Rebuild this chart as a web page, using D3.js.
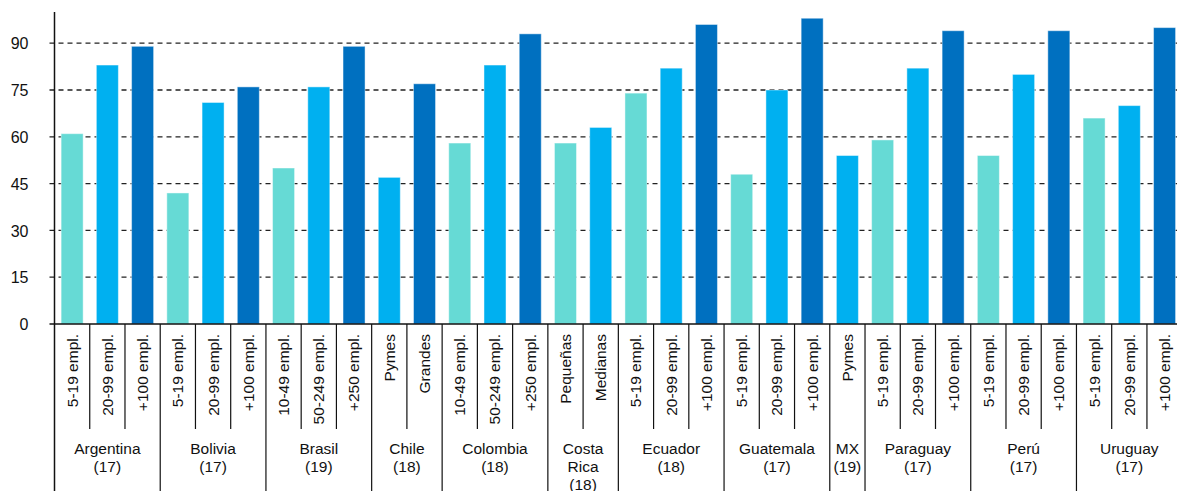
<!DOCTYPE html>
<html>
<head>
<meta charset="utf-8">
<script src="https://cdn.jsdelivr.net/npm/d3@7"></script>
<style>
  body { margin: 0; background: #fff; overflow: hidden; }
  text { font-family: Arial, "Liberation Sans", sans-serif; fill: #111; }
</style>
</head>
<body>
<div id="container"></div>
<script>
// data
const countries = ["Argentina", "Bolivia", "Brasil", "Chile", "Colombia", "Costa Rica",
                   "Ecuador", "Guatemala", "MX", "Paraguay", "Perú", "Uruguay"];
const years = ["(17)", "(17)", "(19)", "(18)", "(18)", "(18)", "(18)", "(17)", "(19)", "(17)", "(17)", "(17)"];
const sizeLabels = [
  ["5-19 empl.", "20-99 empl.", "+100 empl."],
  ["5-19 empl.", "20-99 empl.", "+100 empl."],
  ["10-49 empl.", "50-249 empl.", "+250 empl."],
  ["Pymes", "Grandes"],
  ["10-49 empl.", "50-249 empl.", "+250 empl."],
  ["Pequeñas", "Medianas"],
  ["5-19 empl.", "20-99 empl.", "+100 empl."],
  ["5-19 empl.", "20-99 empl.", "+100 empl."],
  ["Pymes"],
  ["5-19 empl.", "20-99 empl.", "+100 empl."],
  ["5-19 empl.", "20-99 empl.", "+100 empl."],
  ["5-19 empl.", "20-99 empl.", "+100 empl."]
];
const values = [
  [61, 83, 89], [42, 71, 76], [50, 76, 89], [47, 77], [58, 83, 93], [58, 63],
  [74, 82, 96], [48, 75, 98], [54], [59, 82, 94], [54, 80, 94], [66, 70, 95]
];
// which shade each bar uses (0 small, 1 medium, 2 large)
const tiers = [
  [0, 1, 2], [0, 1, 2], [0, 1, 2], [1, 2], [0, 1, 2], [0, 1],
  [0, 1, 2], [0, 1, 2], [1], [0, 1, 2], [0, 1, 2], [0, 1, 2]
];
const yTicks = [0, 15, 30, 45, 60, 75, 90];

const width = 1177, height = 491;
const margin = { left: 54.5, top: 12 };
const axisY = 324;

// flatten into one row per bar
const bars = [];
countries.forEach((c, gi) => {
  values[gi].forEach((v, k) => {
    bars.push({ id: bars.length, group: gi, label: sizeLabels[gi][k], value: v, tier: tiers[gi][k] });
  });
});

const step = 35.24;
const xScale = d3.scaleBand()
  .domain(bars.map(d => d.id))
  .range([margin.left, margin.left + step * bars.length])
  .paddingInner(0.375)
  .paddingOuter(0.1875);

const yScale = d3.scaleLinear()
  .domain([0, 100])
  .range([axisY, margin.top]);

const colorScale = d3.scaleOrdinal()
  .domain([0, 1, 2])
  .range(["#66dad5", "#00b0f0", "#0070c0"]);

const svg = d3.select("#container").append("svg")
  .attr("width", width)
  .attr("height", height);

// dashed gridlines + y labels
const yAxis = d3.axisLeft(yScale)
  .tickValues(yTicks)
  .tickSize(0)
  .tickPadding(0);

svg.selectAll("line.grid")
  .data(yTicks.filter(t => t > 0))
  .join("line")
  .attr("class", "grid")
  .attr("x1", margin.left - 5)
  .attr("x2", width)
  .attr("y1", d => yScale(d))
  .attr("y2", d => yScale(d))
  .attr("stroke", "#222")
  .attr("stroke-width", 1.3)
  .attr("stroke-dasharray", "5,4");

const gy = svg.append("g")
  .attr("transform", `translate(${margin.left - 26},0)`)
  .call(yAxis);
gy.select(".domain").remove();
gy.selectAll("text")
  .attr("font-size", 16)
  .attr("fill", "#111")
  .attr("dy", "0.35em");

// bars
svg.selectAll("rect.bar")
  .data(bars)
  .join("rect")
  .attr("class", "bar")
  .attr("x", d => xScale(d.id))
  .attr("y", d => yScale(d.value))
  .attr("width", xScale.bandwidth())
  .attr("height", d => axisY - yScale(d.value))
  .attr("fill", d => colorScale(d.tier))
  .attr("stroke", "rgba(255,255,255,0.45)")
  .attr("stroke-width", 1);

// axis lines
svg.append("line")
  .attr("x1", margin.left).attr("x2", margin.left)
  .attr("y1", yScale(100)).attr("y2", height)
  .attr("stroke", "#111").attr("stroke-width", 1.5);
svg.append("line")
  .attr("x1", margin.left - 5).attr("x2", width)
  .attr("y1", axisY).attr("y2", axisY)
  .attr("stroke", "#111").attr("stroke-width", 1.5);

// divider lines under each bar
const edge = d => xScale(d.id) - xScale.step() * xScale.paddingInner() / 2;
const groupStart = new Set();
countries.forEach((c, gi) => groupStart.add(bars.find(b => b.group === gi).id));

svg.selectAll("line.div")
  .data(bars.filter(d => d.id > 0).concat([{ id: bars.length, end: true }]))
  .join("line")
  .attr("class", "div")
  .attr("x1", d => d.end ? margin.left + step * bars.length : edge(d))
  .attr("x2", d => d.end ? margin.left + step * bars.length : edge(d))
  .attr("y1", axisY)
  .attr("y2", d => (d.end || groupStart.has(d.id)) ? height : 429)
  .attr("stroke", "#111")
  .attr("stroke-width", 1.2);

// rotated bar labels
svg.selectAll("text.cat")
  .data(bars)
  .join("text")
  .attr("class", "cat")
  .attr("transform", d => `translate(${xScale(d.id) + xScale.bandwidth() / 2},${axisY + 10}) rotate(-90)`)
  .attr("text-anchor", "end")
  .attr("dy", "0.35em")
  .attr("font-size", 15.5)
  .text(d => d.label);

// country labels, wrapped to the group's width
countries.forEach((c, gi) => {
  const members = bars.filter(b => b.group === gi);
  const x0 = edge(members[0]);
  const x1 = x0 + step * members.length;
  const cx = (x0 + x1) / 2;
  const t = svg.append("text")
    .attr("text-anchor", "middle")
    .attr("font-size", 15.5)
    .attr("x", cx)
    .attr("y", 454);
  let lines = [c];
  const probe = t.text(c);
  if (probe.node().getComputedTextLength() > (x1 - x0) - 4) lines = c.split(" ");
  t.text(null);
  lines.concat([years[gi]]).forEach((ln, i) => {
    t.append("tspan")
      .attr("x", cx)
      .attr("dy", i === 0 ? 0 : 18)
      .text(ln);
  });
});
</script>
</body>
</html>
